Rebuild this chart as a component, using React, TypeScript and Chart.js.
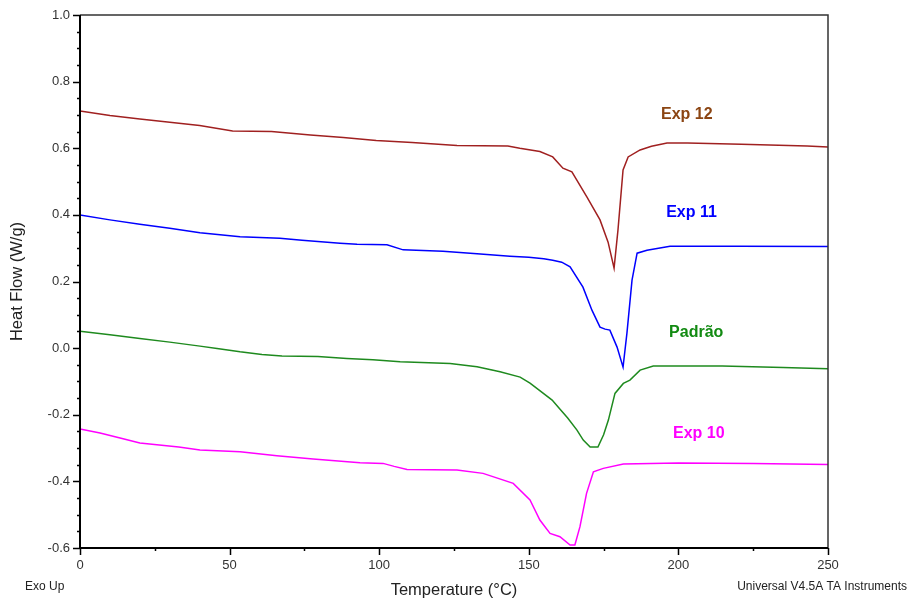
import React, { useEffect, useRef } from "react";
import { Chart, registerables } from "chart.js";

Chart.register(...registerables);

// ---- Data ----
const exp12T = [0, 10, 20, 30, 40, 51, 64, 77, 88, 99, 111, 126, 143, 147, 153.7, 158, 161.4, 164.4, 169.4, 173.8, 176.5, 178.5, 179.8, 181.5, 183.2, 187.2, 191, 196.2, 203, 221, 243, 250];
const exp12V = [0.712, 0.698, 0.688, 0.678, 0.668, 0.652, 0.650, 0.640, 0.632, 0.623, 0.617, 0.608, 0.607, 0.600, 0.590, 0.574, 0.540, 0.529, 0.454, 0.385, 0.318, 0.240, 0.354, 0.535, 0.574, 0.595, 0.606, 0.616, 0.616, 0.612, 0.607, 0.604];

const exp11T = [0, 10, 20, 30, 40.1, 53.5, 66.8, 74.2, 86.9, 92.6, 102.6, 108, 121.3, 132.7, 143.7, 150, 155, 158, 161, 163.8, 168.1, 171.1, 173.8, 175.5, 177.1, 179.5, 181.5, 182.8, 184.5, 186.2, 189.5, 197.2, 220, 250];
const exp11V = [0.400, 0.385, 0.372, 0.360, 0.346, 0.334, 0.330, 0.324, 0.315, 0.312, 0.310, 0.295, 0.291, 0.283, 0.276, 0.273, 0.268, 0.264, 0.258, 0.244, 0.183, 0.114, 0.063, 0.057, 0.054, 0.003, -0.057, 0.045, 0.204, 0.285, 0.294, 0.306, 0.306, 0.305];

const padraoT = [0, 10, 20, 30, 40.1, 45.8, 53.5, 60.8, 67.5, 79.5, 89.2, 97.9, 107, 123.7, 132.7, 140.4, 147.1, 150.4, 154, 157.8, 159.8, 163, 166.1, 168.2, 170.5, 173.1, 175, 176.6, 178.8, 181.6, 183.8, 187.2, 191.6, 214.6, 235, 250];
const padraoV = [0.051, 0.040, 0.029, 0.018, 0.006, -0.001, -0.011, -0.019, -0.024, -0.025, -0.031, -0.035, -0.041, -0.046, -0.056, -0.071, -0.087, -0.105, -0.130, -0.156, -0.177, -0.210, -0.246, -0.276, -0.297, -0.297, -0.260, -0.216, -0.136, -0.106, -0.096, -0.066, -0.054, -0.054, -0.058, -0.062];

const exp10T = [0, 6.7, 13.4, 20, 33, 40.1, 53.5, 65.8, 77.9, 93.6, 101.3, 105, 109.3, 126, 134.7, 144.8, 150.4, 153.7, 157.1, 160.4, 163.8, 165.4, 167.1, 169.3, 171.6, 174.9, 181.6, 200, 225, 250];
const exp10V = [-0.243, -0.255, -0.270, -0.285, -0.297, -0.306, -0.311, -0.323, -0.333, -0.344, -0.346, -0.355, -0.364, -0.366, -0.376, -0.406, -0.456, -0.516, -0.556, -0.566, -0.591, -0.591, -0.536, -0.436, -0.371, -0.361, -0.348, -0.345, -0.346, -0.349];

const seriesNames = ["Exp 12", "Exp 11", "Padrão", "Exp 10"];
const lineColors = ["#A02020", "#0000FF", "#1E8A1E", "#FF00FF"];
const labelColors = ["#8B4513", "#0000FF", "#128A12", "#FF00FF"];
const labelT = [194.2, 195.9, 196.9, 198.2];
const labelV = [0.700, 0.406, 0.048, -0.258];

const xTickMajor = 50;
const xTickStep = 25;
const yTickMajor = 0.2;
const yTickStep = 0.05;

const FONT = "'Liberation Sans', Arial, Helvetica, sans-serif";

const isMultiple = (v: number, m: number) => Math.abs(Math.round(v / m) * m - v) < 1e-6;

const framePlugin = {
  id: "framePlugin",
  afterDraw(chart: any) {
    const { ctx, chartArea: a, scales } = chart;
    const xs = scales.x;
    const ys = scales.y;
    ctx.save();
    // ticks
    ctx.strokeStyle = "#000";
    ctx.lineWidth = 1.5;
    ctx.beginPath();
    xs.ticks.forEach((t: any) => {
      const px = Math.round(xs.getPixelForValue(t.value)) + 0.5;
      const len = isMultiple(t.value, xTickMajor) ? 7 : 3;
      ctx.moveTo(px, a.bottom);
      ctx.lineTo(px, a.bottom + len);
    });
    ys.ticks.forEach((t: any) => {
      const py = Math.round(ys.getPixelForValue(t.value)) + 0.5;
      const len = isMultiple(t.value, yTickMajor) ? 7 : 3;
      ctx.moveTo(a.left, py);
      ctx.lineTo(a.left - len, py);
    });
    ctx.stroke();
    // frame: top and right
    ctx.strokeStyle = "#333";
    ctx.lineWidth = 1.5;
    ctx.beginPath();
    ctx.moveTo(a.left, a.top);
    ctx.lineTo(a.right, a.top);
    ctx.lineTo(a.right, a.bottom);
    ctx.stroke();
    // left and bottom axes
    ctx.strokeStyle = "#000";
    ctx.lineWidth = 2;
    ctx.beginPath();
    ctx.moveTo(a.left, a.top);
    ctx.lineTo(a.left, a.bottom);
    ctx.lineTo(a.right, a.bottom);
    ctx.stroke();
    // series labels
    ctx.font = `bold 16px ${FONT}`;
    ctx.textAlign = "left";
    ctx.textBaseline = "middle";
    seriesNames.forEach((n, i) => {
      ctx.fillStyle = labelColors[i];
      ctx.fillText(n, xs.getPixelForValue(labelT[i]), ys.getPixelForValue(labelV[i]));
    });
    // footnotes
    ctx.font = `12px ${FONT}`;
    ctx.fillStyle = "#222";
    ctx.textAlign = "left";
    ctx.fillText("Exo Up", 25, 587);
    ctx.textAlign = "right";
    ctx.fillText("Universal V4.5A TA Instruments", 907, 587);
    ctx.restore();
  },
};

export default function App() {
  const ref = useRef<HTMLCanvasElement>(null);
  useEffect(() => {
    document.body.style.margin = "0";
    if (!ref.current) return;
    const pts = (t: number[], v: number[]) => t.map((x, i) => ({ x, y: v[i] }));
    const series = [
      pts(exp12T, exp12V),
      pts(exp11T, exp11V),
      pts(padraoT, padraoV),
      pts(exp10T, exp10V),
    ];
    const chart = new Chart(ref.current, {
      type: "line",
      data: {
        datasets: series.map((d, i) => ({
          label: seriesNames[i],
          data: d,
          borderColor: lineColors[i],
          backgroundColor: lineColors[i],
          borderWidth: 1.5,
          pointRadius: 0,
          tension: 0,
          fill: false,
        })),
      },
      options: {
        animation: false,
        responsive: false,
        events: [],
        plugins: { legend: { display: false }, tooltip: { enabled: false } },
        layout: { padding: { top: 15, right: 83, left: 0, bottom: 0 } },
        scales: {
          x: {
            type: "linear",
            min: 0,
            max: 250,
            ticks: {
              stepSize: xTickStep,
              autoSkip: false,
              maxRotation: 0,
              padding: 3,
              color: "#333",
              font: { family: FONT, size: 13 },
              callback: (v: any) => (isMultiple(Number(v), xTickMajor) ? String(Math.round(Number(v))) : ""),
            },
            grid: { color: "transparent", drawOnChartArea: false, tickLength: 7 },
            border: { display: false },
            title: {
              display: true,
              text: "Temperature (°C)",
              color: "#222",
              font: { family: FONT, size: 16.5 },
              padding: { top: 0, bottom: 1 },
            },
            afterFit: (s: any) => {
              s.height = 53;
            },
          },
          y: {
            type: "linear",
            min: -0.6,
            max: 1.0,
            ticks: {
              stepSize: yTickStep,
              autoSkip: false,
              padding: 3,
              color: "#333",
              font: { family: FONT, size: 13 },
              callback: (v: any) => (isMultiple(Number(v), yTickMajor) ? Number(v).toFixed(1) : ""),
            },
            grid: { color: "transparent", drawOnChartArea: false, tickLength: 7 },
            border: { display: false },
            title: {
              display: true,
              text: "Heat Flow (W/g)",
              color: "#222",
              font: { family: FONT, size: 16.5 },
              padding: { top: 8, bottom: 0 },
            },
            afterFit: (s: any) => {
              s.width = 80;
            },
          },
        },
      },
      plugins: [framePlugin],
    } as any);
    return () => chart.destroy();
  }, []);
  return <canvas ref={ref} width={911} height={601} style={{ display: "block" }} />;
}
